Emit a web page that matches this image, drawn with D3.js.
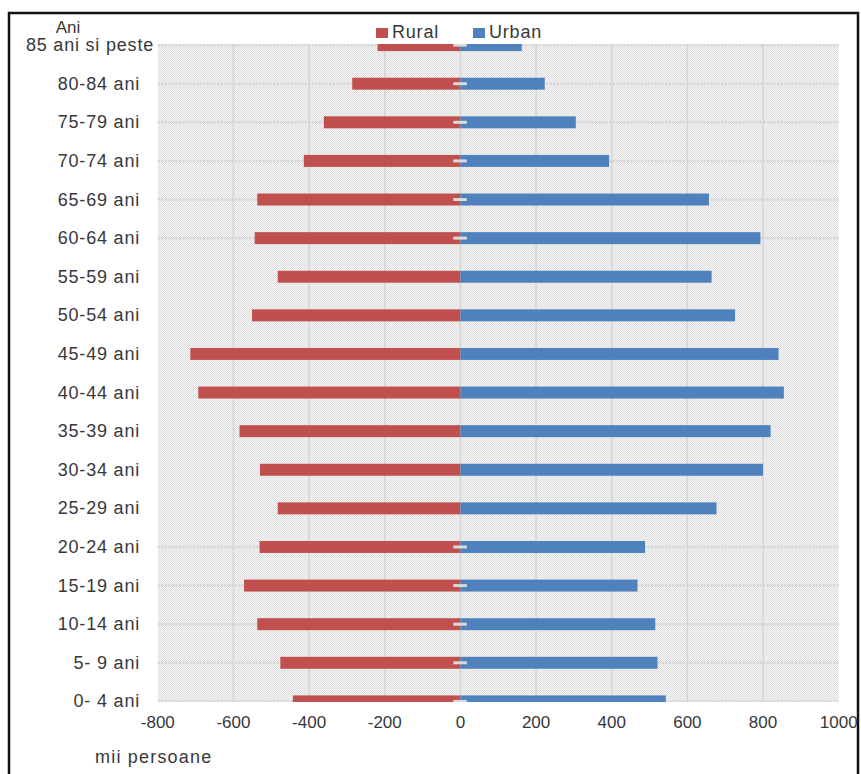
<!DOCTYPE html>
<html>
<head>
<meta charset="utf-8">
<script src="https://cdn.jsdelivr.net/npm/d3@7"></script>
<style>
  body { margin: 0; background: #fff; }
  text { font-family: "Liberation Sans", Arial, sans-serif; fill: #383838; }
</style>
</head>
<body>
<svg id="chart" width="861" height="774"></svg>
<script>
// Age groups, bottom to top
const categories = ["0- 4 ani", "5- 9 ani", "10-14 ani", "15-19 ani", "20-24 ani", "25-29 ani",
  "30-34 ani", "35-39 ani", "40-44 ani", "45-49 ani", "50-54 ani", "55-59 ani",
  "60-64 ani", "65-69 ani", "70-74 ani", "75-79 ani", "80-84 ani", "85 ani si peste"];
// Population, thousands (rural shown as negative values)
const rural = [-443, -476, -537, -572, -531, -483, -530, -584, -693, -714, -551, -483,
  -544, -537, -414, -361, -286, -219];
const urban = [543, 521, 515, 468, 488, 677, 800, 820, 855, 841, 726, 664,
  793, 657, 393, 305, 223, 162];
const seriesNames = ["Rural", "Urban"];
const xTicks = [-800, -600, -400, -200, 0, 200, 400, 600, 800, 1000];
// Rows that carry a dotted guide line
const dottedRows = ["0- 4 ani", "5- 9 ani", "10-14 ani", "15-19 ani", "20-24 ani",
  "60-64 ani", "65-69 ani", "70-74 ani", "75-79 ani", "80-84 ani", "85 ani si peste"];

const colors = { Rural: "#C0504D", Urban: "#4F81BD" };

const svg = d3.select("#chart");
const plot = { left: 157.8, right: 838.7, top: 44, bottom: 702 };

const x = d3.scaleLinear().domain([-800, 1000]).range([plot.left, plot.right]);
const y = d3.scaleBand().domain(categories).range([720.7, 25.8])
  .paddingInner(0.69).paddingOuter(0.345);

// Outer frame
svg.append("rect").attr("x", 9).attr("y", 13).attr("width", 849).attr("height", 800)
  .attr("fill", "none").attr("stroke", "#111").attr("stroke-width", 2.5);

// Plot area background with a fine checker pattern
const defs = svg.append("defs");
const pat = defs.append("pattern").attr("id", "checker").attr("width", 2).attr("height", 2)
  .attr("patternUnits", "userSpaceOnUse");
pat.append("rect").attr("width", 2).attr("height", 2).attr("fill", "#f4f4f4");
pat.append("rect").attr("x", 0).attr("y", 0).attr("width", 1).attr("height", 1).attr("fill", "#dfdfdf");
pat.append("rect").attr("x", 1).attr("y", 1).attr("width", 1).attr("height", 1).attr("fill", "#dfdfdf");

defs.append("clipPath").attr("id", "plotClip").append("rect")
  .attr("x", plot.left).attr("y", plot.top)
  .attr("width", plot.right - plot.left).attr("height", plot.bottom - plot.top);

svg.append("rect").attr("x", plot.left).attr("y", plot.top)
  .attr("width", plot.right - plot.left).attr("height", plot.bottom - plot.top)
  .attr("fill", "url(#checker)");

const g = svg.append("g").attr("clip-path", "url(#plotClip)");

// Vertical gridlines
g.selectAll(".vgrid").data(xTicks.filter(d => d > -800 && d < 1000)).join("line")
  .attr("x1", d => x(d)).attr("x2", d => x(d))
  .attr("y1", plot.top).attr("y2", plot.bottom)
  .attr("stroke", "#d6d6d6").attr("stroke-width", 1.6);

// Dotted guide lines
g.selectAll(".hdot").data(dottedRows).join("line")
  .attr("x1", plot.left).attr("x2", plot.right)
  .attr("y1", d => y(d) + y.bandwidth() / 2).attr("y2", d => y(d) + y.bandwidth() / 2)
  .attr("stroke", "#d4d4d4").attr("stroke-width", 2.5).attr("stroke-dasharray", "2 1.5");

// Bars
const rows = categories.map((c, i) => ({ c, Rural: rural[i], Urban: urban[i] }));
seriesNames.forEach(s => {
  g.selectAll(".bar-" + s).data(rows).join("rect")
    .attr("x", d => x(Math.min(0, d[s])))
    .attr("width", d => Math.abs(x(d[s]) - x(0)))
    .attr("y", d => y(d.c))
    .attr("height", y.bandwidth())
    .attr("fill", colors[s]);
});

// Short light marks at zero on guide rows
g.selectAll(".zmark").data(dottedRows).join("rect")
  .attr("x", x(-19)).attr("width", x(17) - x(-19))
  .attr("y", d => y(d) + y.bandwidth() / 2 - 1.5).attr("height", 3)
  .attr("fill", "#dadada");

// Category labels (the long top label sits further right)
const lastCat = categories[categories.length - 1];
svg.selectAll(".ylab").data(categories).join("text")
  .attr("x", d => d === lastCat ? 154 : 140)
  .attr("y", d => Math.max(y(d) + y.bandwidth() / 2, 44))
  .attr("text-anchor", "end").attr("dominant-baseline", "central")
  .attr("font-size", 18).attr("letter-spacing", 0.8)
  .text(d => d);

// X tick labels
svg.selectAll(".xlab").data(xTicks).join("text")
  .attr("x", d => x(d)).attr("y", 722)
  .attr("text-anchor", "middle").attr("dominant-baseline", "central")
  .attr("font-size", 17)
  .text(d => d);

// Axis titles
svg.append("text").attr("x", 68).attr("y", 27).attr("text-anchor", "middle")
  .attr("dominant-baseline", "central").attr("font-size", 17).text("Ani");
svg.append("text").attr("x", 95).attr("y", 757)
  .attr("dominant-baseline", "central").attr("font-size", 18).attr("letter-spacing", 1.2)
  .text("mii persoane");

// Legend
const legend = svg.append("g");
const legendX = [376, 473];
seriesNames.forEach((s, i) => {
  legend.append("rect").attr("x", legendX[i]).attr("y", 28).attr("width", 12).attr("height", 10)
    .attr("fill", colors[s]);
  legend.append("text").attr("x", legendX[i] + 16).attr("y", 32)
    .attr("dominant-baseline", "central").attr("font-size", 18).attr("letter-spacing", 0.8)
    .text(s);
});
</script>
</body>
</html>
